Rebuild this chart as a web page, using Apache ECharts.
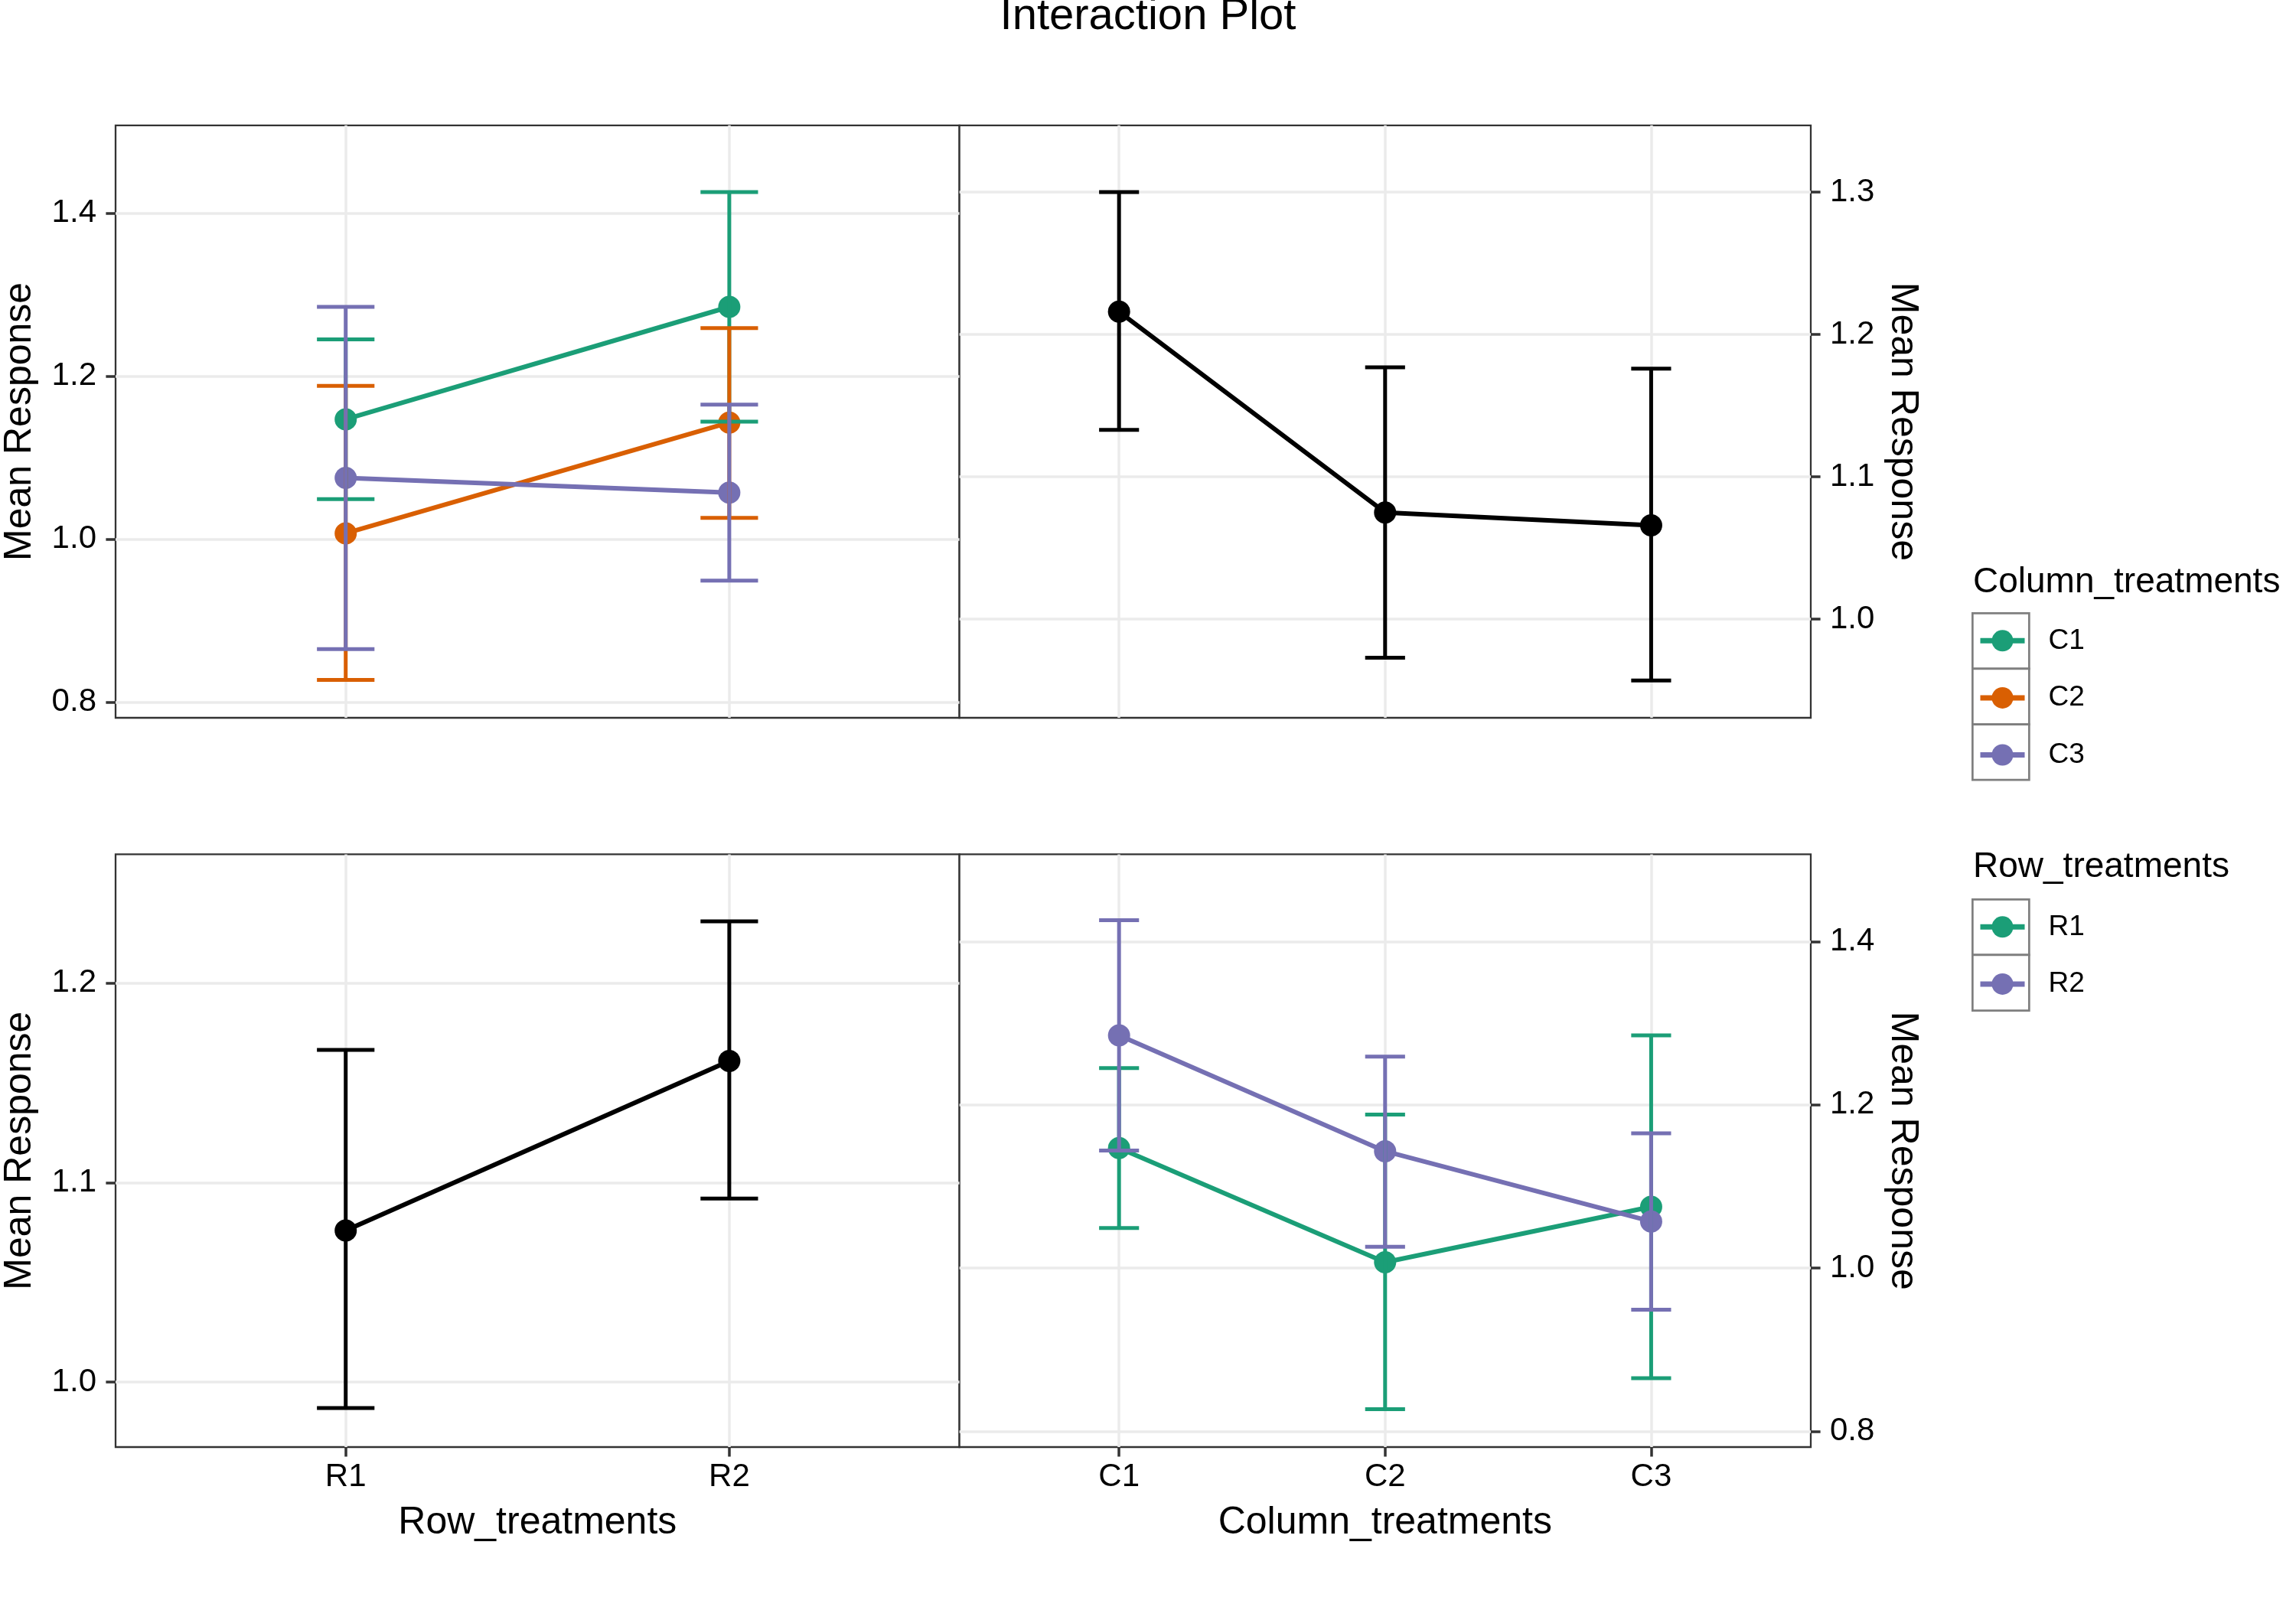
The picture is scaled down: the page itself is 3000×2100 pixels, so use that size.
<!DOCTYPE html>
<html><head><meta charset="utf-8">
<script src="https://cdn.jsdelivr.net/npm/echarts@6/dist/echarts.min.js"></script>
<style>html,body{margin:0;padding:0;background:#fff}#chart{width:3000px;height:2100px}</style>
</head><body><div id="chart"></div>
<script>
// ---------- data ----------
const rowCats = ['R1', 'R2'];
const colCats = ['C1', 'C2', 'C3'];
// cell means (per column treatment, over R1, R2) with error-bar limits
const c1Mean = [1.147, 1.285], c1Low = [1.049, 1.144], c1High = [1.245, 1.426];
const c2Mean = [1.007, 1.143], c2Low = [0.827, 1.026], c2High = [1.188, 1.259];
const c3Mean = [1.075, 1.057], c3Low = [0.865, 0.949], c3High = [1.285, 1.165];
// column-treatment means
const colMean = [1.216, 1.075, 1.066], colLow = [1.133, 0.973, 0.957], colHigh = [1.300, 1.177, 1.176];
// row-treatment means
const rowMean = [1.076, 1.161], rowLow = [0.987, 1.092], rowHigh = [1.1665, 1.231];
// tick labels
const yTicksTL = [0.8, 1.0, 1.2, 1.4];
const yTicksTR = [1.0, 1.1, 1.2, 1.3];
const yTicksBL = [1.0, 1.1, 1.2];
const yTicksBR = [0.8, 1.0, 1.2, 1.4];
const yRangeTL = [0.7806, 1.5078];
const yRangeTR = [0.9308, 1.3469];
const yRangeBL = [0.9674, 1.2646];
const yRangeBR = [0.7806, 1.5068];

// ---------- style ----------
const FONT = 'Liberation Sans, Arial, Helvetica, sans-serif';
const colorC = ['#1B9E77', '#D95F02', '#7570B3'];
const colorR = ['#1B9E77', '#7570B3'];
const GRID_COLOR = '#EBEBEB';
const CAP = 0.15;

const cellMean = [c1Mean, c2Mean, c3Mean];
const cellLow = [c1Low, c2Low, c3Low];
const cellHigh = [c1High, c2High, c3High];

function errRender(params, api) {
  const x = api.value(0), lo = api.value(1), hi = api.value(2);
  const pLo = api.coord([x, lo]), pHi = api.coord([x, hi]);
  const pL = api.coord([x - CAP / 2, hi]), pR = api.coord([x + CAP / 2, hi]);
  const half = (pR[0] - pL[0]) / 2;
  const style = { stroke: api.visual('color'), lineWidth: 5, lineCap: 'butt' };
  return {
    type: 'group', children: [
      { type: 'line', shape: { x1: pLo[0], y1: pLo[1], x2: pHi[0], y2: pHi[1] }, style },
      { type: 'line', shape: { x1: pHi[0] - half, y1: pHi[1], x2: pHi[0] + half, y2: pHi[1] }, style },
      { type: 'line', shape: { x1: pLo[0] - half, y1: pLo[1], x2: pLo[0] + half, y2: pLo[1] }, style }
    ]
  };
}

function xAxis(gridIndex, cats, showLabels, name) {
  const vals = cats.map((c, i) => i + 1);
  return {
    type: 'value', gridIndex, min: 0.4, max: cats.length + 0.6,
    axisLine: { show: false },
    axisTick: { show: showLabels, customValues: vals, length: 12.6, lineStyle: { color: '#333333', width: 3.5 } },
    axisLabel: { show: showLabels, customValues: vals, margin: 18, fontSize: 42, color: '#000', fontFamily: FONT,
      formatter: v => cats[Math.round(v) - 1] },
    splitLine: { show: true, lineStyle: { color: GRID_COLOR, width: 3.5 } },
    name: showLabels ? name : '', nameLocation: 'middle', nameGap: 74,
    nameTextStyle: { fontSize: 50, color: '#000', fontFamily: FONT }
  };
}
function yAxis(gridIndex, range, ticks, pos) {
  return {
    type: 'value', gridIndex, position: pos, min: range[0], max: range[1],
    axisLine: { show: false },
    axisTick: { show: true, customValues: ticks, length: 12.6, lineStyle: { color: '#333333', width: 3.5 } },
    axisLabel: { customValues: ticks, margin: 25, fontSize: 42, color: '#000', fontFamily: FONT,
      formatter: v => v.toFixed(1) },
    splitLine: { show: true, lineStyle: { color: GRID_COLOR, width: 3.5 } },
    name: 'Mean Response', nameLocation: 'middle',
    nameRotate: pos === 'left' ? 90 : -90, nameGap: pos === 'left' ? 100 : 95,
    nameTextStyle: { fontSize: 50, color: '#000', fontFamily: FONT }
  };
}

const gridBase = { show: true, backgroundColor: '#fff', borderColor: '#333333', borderWidth: 2.3, containLabel: false };
const grids = [
  Object.assign({ left: 142.9, top: 163.8, width: 1110.7, height: 774.2 }, gridBase),
  Object.assign({ left: 1253.6, top: 163.8, width: 1112.4, height: 774.2 }, gridBase),
  Object.assign({ left: 142.9, top: 1116.4, width: 1110.7, height: 774.6 }, gridBase),
  Object.assign({ left: 1253.6, top: 1116.4, width: 1112.4, height: 774.6 }, gridBase)
];

const series = [];
function addGroup(name, color, axisIdx, means, lows, highs) {
  series.push({
    name, type: 'line', xAxisIndex: axisIdx, yAxisIndex: axisIdx,
    data: means.map((m, i) => [i + 1, m]),
    symbol: 'circle', symbolSize: 29, showSymbol: true,
    lineStyle: { width: 6, color }, itemStyle: { color },
    emphasis: { disabled: true }, z: 2, animation: false
  });
  series.push({
    name: name + ' error', type: 'custom', xAxisIndex: axisIdx, yAxisIndex: axisIdx,
    data: means.map((m, i) => [i + 1, lows[i], highs[i]]),
    encode: { x: 0, y: [1, 2] }, renderItem: errRender,
    itemStyle: { color }, z: 3, animation: false, silent: true
  });
}
// top-left: x = row treatment, groups = column treatment
colCats.forEach((c, k) => addGroup(c, colorC[k], 0, cellMean[k], cellLow[k], cellHigh[k]));
// top-right: column means
addGroup('Column mean', '#000000', 1, colMean, colLow, colHigh);
// bottom-left: row means
addGroup('Row mean', '#000000', 2, rowMean, rowLow, rowHigh);
// bottom-right: x = column treatment, groups = row treatment
rowCats.forEach((r, j) => addGroup(r, colorR[j],
  3, colCats.map((c, k) => cellMean[k][j]), colCats.map((c, k) => cellLow[k][j]), colCats.map((c, k) => cellHigh[k][j])));

// legend key boxes (decoration)
const KEY_H = 72.6;
const graphics = [];
function keyBoxes(names, top) {
  names.forEach((n, i) => graphics.push({
    type: 'rect', left: 2576, top: top + i * KEY_H, z: -1,
    shape: { width: 74, height: KEY_H }, style: { fill: '#fff', stroke: '#7F7F7F', lineWidth: 2.7 }
  }));
}
keyBoxes(colCats, 800);
keyBoxes(rowCats, 1174);

function legend(names, top) {
  return {
    data: names, orient: 'vertical', left: 2584, top: top, padding: 0,
    itemWidth: 58, itemHeight: 35, itemGap: KEY_H - 35,
    lineStyle: { width: 7 },
    textStyle: { fontSize: 37, color: '#000', fontFamily: FONT, padding: [0, 0, 0, 26] }
  };
}

const option = {
  backgroundColor: '#fff',
  animation: false,
  title: [
    { text: 'Interaction Plot', left: 'center', top: -7, padding: 0,
      textStyle: { fontSize: 58, fontWeight: 'normal', color: '#000', fontFamily: FONT } },
    { text: 'Column_treatments', left: 2578, top: 738, padding: 0,
      textStyle: { fontSize: 46, fontWeight: 'normal', color: '#000', fontFamily: FONT } },
    { text: 'Row_treatments', left: 2578, top: 1110, padding: 0,
      textStyle: { fontSize: 46, fontWeight: 'normal', color: '#000', fontFamily: FONT } }
  ],
  grid: grids,
  xAxis: [
    xAxis(0, rowCats, false, 'Row_treatments'),
    xAxis(1, colCats, false, 'Column_treatments'),
    xAxis(2, rowCats, true, 'Row_treatments'),
    xAxis(3, colCats, true, 'Column_treatments')
  ],
  yAxis: [
    yAxis(0, yRangeTL, yTicksTL, 'left'),
    yAxis(1, yRangeTR, yTicksTR, 'right'),
    yAxis(2, yRangeBL, yTicksBL, 'left'),
    yAxis(3, yRangeBR, yTicksBR, 'right')
  ],
  legend: [legend(colCats, 836.3 - 17.5), legend(rowCats, 1210.3 - 17.5)],
  graphic: graphics,
  series
};
const chart = echarts.init(document.getElementById('chart'), null, { renderer: 'canvas' });
chart.setOption(option);
</script></body></html>
